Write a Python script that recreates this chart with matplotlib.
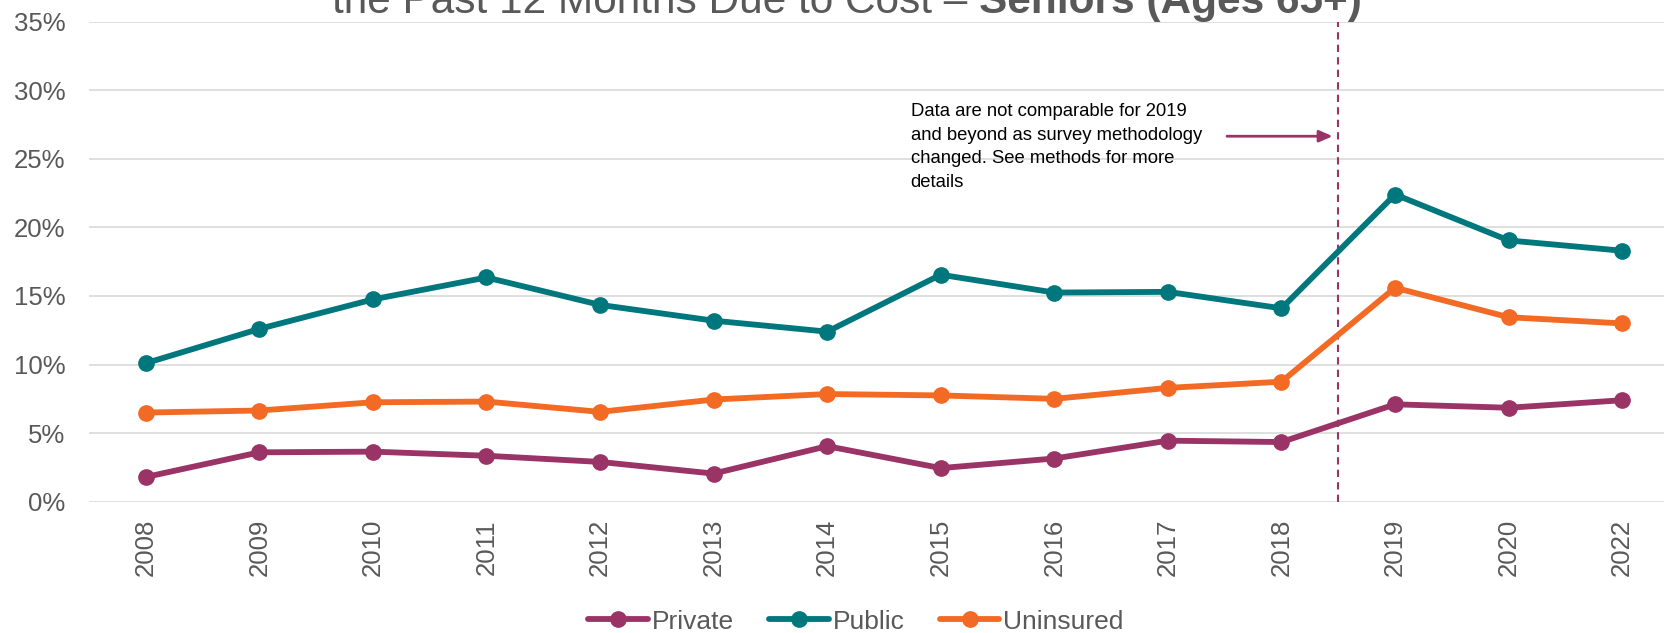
import matplotlib
matplotlib.use("Agg")
import matplotlib.pyplot as plt
from matplotlib.ticker import FuncFormatter

years = ['2008', '2009', '2010', '2011', '2012', '2013', '2014',
         '2015', '2016', '2017', '2018', '2019', '2020', '2022']
private = [1.8, 3.6, 3.65, 3.35, 2.9, 2.05, 4.05, 2.45, 3.15, 4.45, 4.35, 7.1, 6.85, 7.4]
public = [10.1, 12.6, 14.75, 16.35, 14.35, 13.2, 12.4, 16.55, 15.25, 15.3, 14.1, 22.4, 19.05, 18.3]
uninsured = [6.5, 6.65, 7.25, 7.3, 6.55, 7.45, 7.85, 7.75, 7.5, 8.3, 8.75, 15.6, 13.45, 13.0]

note = ("Data are not comparable for 2019\nand beyond as survey methodology\n"
        "changed. See methods for more\ndetails")

plt.rcParams['font.family'] = ['Liberation Sans', 'DejaVu Sans']
gray = '#595959'
c_private = '#9A3366'
c_public = '#00777D'
c_unins = '#F26A24'

fig = plt.figure(figsize=(16.65, 6.33), dpi=100)
# plot area: gridlines from x=89px, 35% at y=22px, 0% at y=502px (right side cropped)
ax = fig.add_axes([89 / 1665, (633 - 501.7) / 633, (1679 - 89) / 1665, 480 / 633])

x = list(range(len(years)))
for vals, col, name in [(private, c_private, 'Private'),
                        (public, c_public, 'Public'),
                        (uninsured, c_unins, 'Uninsured')]:
    ax.plot(x, vals, color=col, lw=4.2, marker='o', ms=11, label=name,
            solid_capstyle='round', zorder=3)

ax.set_xlim(-0.5, 13.5)
ax.set_ylim(0, 35)
ax.set_yticks(range(0, 36, 5))
ax.yaxis.set_major_formatter(FuncFormatter(lambda v, p: f'{v:.0f}%'))
ax.set_xticks(x)
ax.set_xticklabels(years, rotation=90)
ax.tick_params(axis='y', length=0, pad=17, labelsize=18.5, labelcolor=gray)
ax.tick_params(axis='x', length=0, pad=12.5, labelsize=18.5, labelcolor=gray)
ax.grid(axis='y', color='#d9d9d9', lw=1.2, zorder=0)
ax.set_axisbelow(True)
for s in ax.spines.values():
    s.set_visible(False)

# methodology break
ax.axvline(10.5, color=c_private, lw=1.5, ls=(0, (3.5, 2.5)), zorder=2)
ax.annotate('', xy=(10.45, 26.65), xytext=(9.52, 26.65),
            arrowprops=dict(arrowstyle='-|>,head_length=0.8,head_width=0.35',
                            color=c_private, lw=2, shrinkA=0, shrinkB=0))
ax.text(6.735, 29.05, note, fontsize=13.3, color='black', ha='left', va='top',
        linespacing=1.5)

# title, only the lower line is visible in the cropped original
t1 = fig.text(332 / 1665, 1 - 13 / 633, 'the Past 12 Months Due to Cost \u2013 ',
              fontsize=30.5, color=gray, ha='left', va='baseline')
fig.canvas.draw()
bb = t1.get_window_extent()
fig.text(bb.x1 / 1665, 1 - 13 / 633, 'Seniors (Ages 65+)', fontsize=30.5,
         fontweight='bold', color=gray, ha='left', va='baseline')

leg = fig.legend(loc='center', bbox_to_anchor=(856 / 1665, 11.3 / 633), ncol=3,
                 frameon=False, fontsize=19, handlelength=2.25, handletextpad=0.15,
                 columnspacing=1.35, labelcolor=gray)

fig.savefig('out.png', dpi=100)
